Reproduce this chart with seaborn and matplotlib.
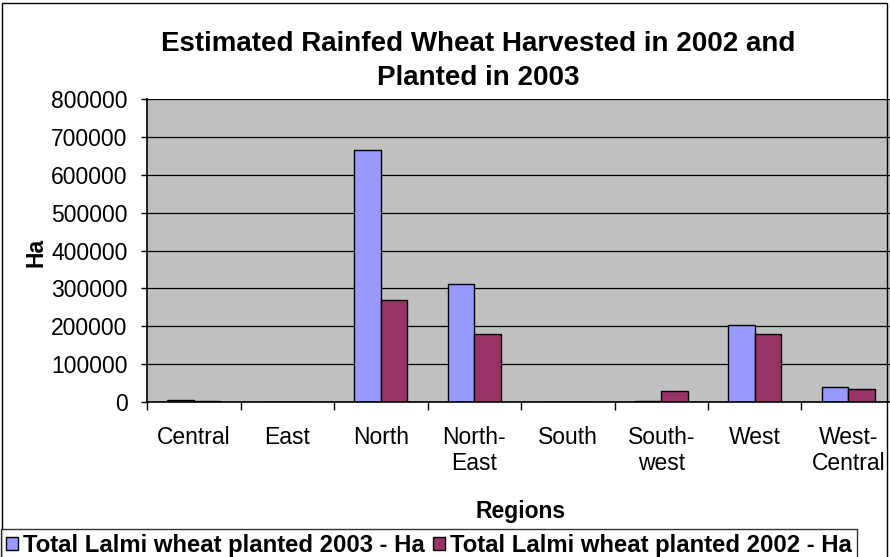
import matplotlib
matplotlib.use("Agg")
import matplotlib.pyplot as plt
from matplotlib.patches import Rectangle, Patch
import seaborn as sns
import pandas as pd

# Regional rainfed (Lalmi) wheat areas, hectares
regions = ["Central", "East", "North", "North-East", "South",
           "Southwest", "West", "West-Central"]
region_labels = ["Central", "East", "North", "North-\nEast", "South",
                 "South-\nwest", "West", "West-\nCentral"]
planted_2003 = [6000, 0, 665000, 311000, 0, 1500, 202000, 39000]
planted_2002 = [2500, 0, 268000, 180000, 0, 28000, 179000, 35000]
series_names = ["Total Lalmi wheat planted 2003 - Ha",
                "Total Lalmi wheat planted 2002 - Ha"]
series_colors = ["#9999FF", "#993366"]
y_ticks = [0, 100000, 200000, 300000, 400000, 500000, 600000, 700000, 800000]

df = pd.DataFrame({
    "Region": regions * 2,
    "Ha": planted_2003 + planted_2002,
    "Series": [series_names[0]] * len(regions) + [series_names[1]] * len(regions),
})

sns.set_theme(style="white")
plt.rcParams["font.family"] = ["Liberation Sans", "DejaVu Sans"]
plt.rcParams["text.color"] = "black"
plt.rcParams["axes.labelcolor"] = "black"
plt.rcParams["xtick.color"] = "black"
plt.rcParams["ytick.color"] = "black"

W, H = 890, 557
fig = plt.figure(figsize=(W / 100, H / 100), dpi=100)
fig.patch.set_facecolor("white")

# plot area in pixel terms
px_left, px_top, px_bottom, px_width = 147, 99, 402, 748
ax = fig.add_axes([px_left / W, (H - px_bottom) / H, px_width / W,
                   (px_bottom - px_top) / H])
ax.set_facecolor("#C0C0C0")

sns.barplot(data=df, x="Region", y="Ha", hue="Series", order=regions,
            hue_order=series_names, palette=series_colors, width=0.571,
            edgecolor="black", linewidth=1.0, saturation=1, ax=ax,
            legend=False, errorbar=None)

ax.set_ylim(0, 800000)
ax.set_xlim(-0.5, len(regions) - 0.5)
ax.set_yticks(y_ticks)
ax.set_yticklabels([str(v) for v in y_ticks], fontsize=16.5, color="black")
ax.yaxis.grid(True, color="black", linewidth=0.9)
ax.set_axisbelow(True)

# boundaries as tick marks, names centred between them
ax.set_xticks([i - 0.5 for i in range(len(regions) + 1)])
ax.set_xticklabels([])
ax.set_xticks(range(len(regions)), minor=True)
ax.set_xticklabels(region_labels, minor=True, fontsize=16.5, color="black")
ax.tick_params(axis="x", which="major", direction="out", length=5.5,
               width=1, color="black", bottom=True)
ax.tick_params(axis="x", which="minor", length=0, pad=17)
ax.tick_params(axis="y", direction="out", length=4, width=1, color="black",
               left=True, pad=10)
ax.set_xlabel("")
ax.set_ylabel("")

for side in ["top", "right"]:
    ax.spines[side].set_visible(False)
for side in ["left", "bottom"]:
    ax.spines[side].set_color("black")
    ax.spines[side].set_linewidth(1.2)

fig.text(478 / W, 1 - 31 / H,
         "Estimated Rainfed Wheat Harvested in 2002 and\nPlanted in 2003",
         ha="center", va="top", fontsize=20, fontweight="bold",
         linespacing=1.42, color="black")
fig.text(36 / W, (H - 252) / H, "Ha", rotation=90, ha="center",
         va="center", fontsize=16.5, fontweight="bold", color="black")
fig.text(521 / W, (H - 518) / H, "Regions", ha="center", va="baseline",
         fontsize=16.5, fontweight="bold", color="black")

# chart border
fig.add_artist(Rectangle((2 / W, -0.01), 885 / W, 1 - 3 / H + 0.01,
                         transform=fig.transFigure, fill=False,
                         edgecolor="black", linewidth=1.0))

handles = [Patch(facecolor=c, edgecolor="black", linewidth=1.0)
           for c in series_colors]
leg = fig.legend(handles, series_names, loc="lower left",
                 bbox_to_anchor=(1 / W, -0.009), ncol=2, frameon=True,
                 fancybox=False, borderpad=0.22, borderaxespad=0,
                 handlelength=0.48, handleheight=0.48, handletextpad=0.22,
                 columnspacing=0.35,
                 prop={"size": 17.2, "weight": "bold"})
leg.get_frame().set_edgecolor("black")
leg.get_frame().set_linewidth(1.0)
leg.get_frame().set_facecolor("white")
for t in leg.get_texts():
    t.set_color("black")

fig.savefig("out.png", dpi=100)
